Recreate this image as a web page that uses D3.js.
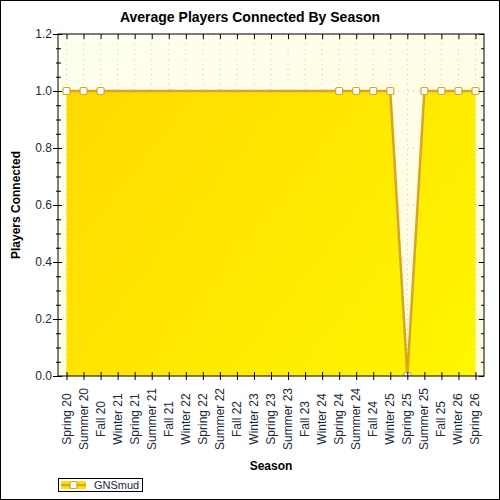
<!DOCTYPE html>
<html>
<head>
<meta charset="utf-8">
<script src="https://cdn.jsdelivr.net/npm/d3@7"></script>
<style>
  body { margin: 0; background: #fff; }
  svg { display: block; font-family: "Liberation Sans", Arial, sans-serif; }
</style>
</head>
<body>
<div id="chart"></div>
<script>
// chart data
const seasons = ["Spring 20", "Summer 20", "Fall 20", "Winter 21", "Spring 21", "Summer 21",
  "Fall 21", "Winter 22", "Spring 22", "Summer 22", "Fall 22", "Winter 23", "Spring 23",
  "Summer 23", "Fall 23", "Winter 24", "Spring 24", "Summer 24", "Fall 24", "Winter 25",
  "Spring 25", "Summer 25", "Fall 25", "Winter 26", "Spring 26"];
const gnsmud = [1, 1, 1, null, null, null, null, null, null, null, null, null, null,
  null, null, null, 1, 1, 1, 1, 0, 1, 1, 1, 1];
const yTicks = [0, 0.2, 0.4, 0.6, 0.8, 1.0, 1.2];
const seriesName = "GNSmud";

const W = 500, H = 500;
const margin = { top: 34, right: 16, bottom: 124, left: 58 };
const width = W - margin.left - margin.right;
const height = H - margin.top - margin.bottom;

const svg = d3.select("#chart").append("svg")
  .attr("width", W).attr("height", H);

const defs = svg.append("defs");
const bg = defs.append("linearGradient").attr("id", "bgGrad")
  .attr("x1", "0").attr("y1", "0").attr("x2", "1").attr("y2", "1");
bg.append("stop").attr("offset", "0").attr("stop-color", "#fffff0");
bg.append("stop").attr("offset", "1").attr("stop-color", "#fffbdc");
const fillGrad = defs.append("linearGradient").attr("id", "fillGrad")
  .attr("gradientUnits", "userSpaceOnUse")
  .attr("x1", 0).attr("y1", 0).attr("x2", width).attr("y2", height);
fillGrad.append("stop").attr("offset", "0").attr("stop-color", "#ffd700");
fillGrad.append("stop").attr("offset", "1").attr("stop-color", "#fff700");
defs.append("clipPath").attr("id", "plotClip")
  .append("rect").attr("width", width).attr("height", height);

// outer frame
svg.append("rect").attr("x", 0.5).attr("y", 0.5).attr("width", W - 1).attr("height", H - 1)
  .attr("fill", "#fff").attr("stroke", "#000");

svg.append("text").attr("x", 250).attr("y", 22)
  .attr("text-anchor", "middle").attr("font-size", 14).attr("font-weight", "bold")
  .text("Average Players Connected By Season");

const g = svg.append("g").attr("transform", `translate(${margin.left},${margin.top})`);

const x = d3.scalePoint().domain(seasons).range([0, width]).padding(0.5);
const y = d3.scaleLinear().domain([0, 1.2]).range([height, 0]);

g.append("rect").attr("width", width).attr("height", height).attr("fill", "url(#bgGrad)");

// dotted grid
g.append("g").selectAll("line").data(seasons).join("line")
  .attr("x1", d => x(d)).attr("x2", d => x(d)).attr("y1", 0).attr("y2", height)
  .attr("stroke", "#c8c8c8").attr("stroke-dasharray", "1,4");
g.append("g").selectAll("line").data(yTicks).join("line")
  .attr("x1", 0).attr("x2", width).attr("y1", d => y(d)).attr("y2", d => y(d))
  .attr("stroke", "#c8c8c8").attr("stroke-dasharray", "1,4");

const pts = seasons.map((s, i) => ({ s, v: gnsmud[i] })).filter(d => d.v != null);

const plot = g.append("g").attr("clip-path", "url(#plotClip)");
plot.append("path").datum(pts)
  .attr("fill", "url(#fillGrad)")
  .attr("d", d3.area().x(d => x(d.s)).y0(height).y1(d => y(d.v)));
plot.append("path").datum(pts)
  .attr("fill", "none").attr("stroke", "#daa520").attr("stroke-width", 2.5)
  .attr("d", d3.line().x(d => x(d.s)).y(d => y(d.v)));
plot.selectAll("rect.mk").data(pts).join("rect").attr("class", "mk")
  .attr("x", d => x(d.s) - 3.5).attr("y", d => y(d.v) - 3.5)
  .attr("width", 7).attr("height", 7).attr("rx", 1.5)
  .attr("fill", "#fff").attr("stroke", "#daa520").attr("stroke-width", 1.2);

// axes
const minor = d3.range(0, 1.2001, 0.05);
g.append("g").attr("transform", `translate(0,${height})`)
  .call(d3.axisBottom(x).tickSizeInner(4).tickSizeOuter(0).tickFormat(""))
  .call(a => a.selectAll(".tick line").attr("y1", -4))
  .call(a => a.select(".domain").remove());
g.append("g")
  .call(d3.axisTop(x).tickSizeInner(-5).tickSizeOuter(0).tickFormat(""))
  .call(a => a.select(".domain").remove());
g.append("g")
  .call(d3.axisLeft(y).tickValues(minor).tickSizeInner(2).tickSizeOuter(0).tickFormat(""))
  .call(a => a.selectAll(".tick line").attr("x2", -2).attr("x1", 3))
  .call(a => a.select(".domain").remove());
g.append("g")
  .call(d3.axisLeft(y).tickValues(yTicks).tickSizeOuter(0).tickFormat(d3.format(".1f")))
  .call(a => a.selectAll(".tick line").attr("x2", -5).attr("x1", 4))
  .call(a => a.selectAll(".tick text").attr("x", -6).attr("font-size", 12)
    .attr("font-family", "Liberation Sans, Arial, sans-serif").attr("fill", "#1a2a3a"))
  .call(a => a.select(".domain").remove());
g.append("g").attr("transform", `translate(${width},0)`)
  .call(d3.axisRight(y).tickValues(minor).tickSizeInner(-3).tickSizeOuter(0).tickFormat(""))
  .call(a => a.select(".domain").remove());
g.append("g").attr("transform", `translate(${width},0)`)
  .call(d3.axisRight(y).tickValues(yTicks).tickSizeInner(-5).tickSizeOuter(0).tickFormat(""))
  .call(a => a.select(".domain").remove());
g.append("rect").attr("width", width).attr("height", height)
  .attr("fill", "none").attr("stroke", "#000");

// x labels
g.append("g").selectAll("text").data(seasons).join("text")
  .attr("transform", d => `translate(${x(d) + 4},${height + 43}) rotate(-90)`)
  .attr("text-anchor", "middle").attr("font-size", 12).attr("fill", "#1a2a3a")
  .text(d => d);

svg.append("text").attr("x", margin.left + width / 2).attr("y", 470)
  .attr("text-anchor", "middle").attr("font-size", 12).attr("font-weight", "bold")
  .text("Season");
svg.append("text").attr("transform", `translate(20,${margin.top + height / 2}) rotate(-90)`)
  .attr("text-anchor", "middle").attr("font-size", 12).attr("font-weight", "bold")
  .text("Players Connected");

// legend
const lg = svg.append("g").attr("transform", "translate(58,478)");
lg.append("rect").attr("x", 0.5).attr("y", 0.5).attr("width", 84).attr("height", 13)
  .attr("fill", "#fff").attr("stroke", "#000");
lg.append("rect").attr("x", 3).attr("y", 3).attr("width", 25).attr("height", 8).attr("fill", "#ffe600");
lg.append("line").attr("x1", 3).attr("x2", 28).attr("y1", 7).attr("y2", 7)
  .attr("stroke", "#daa520").attr("stroke-width", 2.5);
lg.append("rect").attr("x", 12).attr("y", 3.5).attr("width", 7).attr("height", 7).attr("rx", 1.5)
  .attr("fill", "#fff").attr("stroke", "#daa520").attr("stroke-width", 1.2);
lg.append("text").attr("x", 36).attr("y", 11).attr("font-size", 11).attr("fill", "#1a2a3a")
  .text(seriesName);
</script>
</body>
</html>
